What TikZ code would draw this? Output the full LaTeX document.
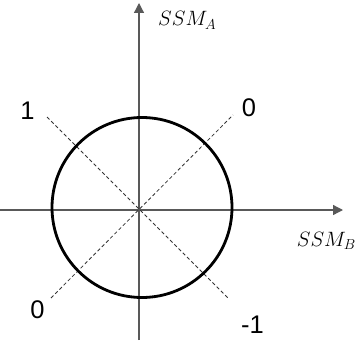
\documentclass[tikz,border=0pt]{standalone}
\usepackage{fontspec}
\setmainfont{Liberation Sans}
\usetikzlibrary{arrows.meta}

\tikzset{
  axis/.style={draw=black!65, line width=1.3pt, -{Triangle[length=10pt, width=10pt]}},
  diag/.style={draw=black!80, line width=0.8pt, dash pattern=on 3.5pt off 2.5pt},
  tick/.style={font=\fontsize{25.5}{25.5}\selectfont},
  axlabel/.style={font=\fontsize{21.5}{21.5}\selectfont}
}

\begin{document}
\begin{tikzpicture}[x=1pt, y=-1pt, every node/.style={inner sep=0pt}]
			\useasboundingbox (0,0) rectangle (358,350);

			\coordinate (xs) at (0, 210);
			\coordinate (xe) at (343, 210);
			\coordinate (ys) at (139, 340);
			\coordinate (ye) at (139, 3);

			\coordinate (d1s) at (47, 117);
			\coordinate (d1e) at (229, 299);
			\coordinate (d2s) at (51, 298);
			\coordinate (d2e) at (233, 115);

			\node[tick] (one) at (27.5, 110.5) {1};
			\node[tick] (zeroR) at (249, 107.5) {0};
			\node[tick] (zeroL) at (37.5, 309.5) {0};
			\node[tick] (minus) at (252.5, 324.5) {-1};

			\node[axlabel, anchor=base west] (ssma) at (158, 26) {$SSM_A$};
			\node[axlabel, anchor=base east] (ssmb) at (356, 246) {$SSM_B$};

			\draw[axis] (xs) -- (xe);
			\draw[axis] (ys) -- (ye);
			\draw[diag] (d1s) -- (d1e);
			\draw[diag] (d2s) -- (d2e);
			\draw[line width=2.8pt] (142, 207.5) circle (90);
		\end{tikzpicture}
\end{document}
